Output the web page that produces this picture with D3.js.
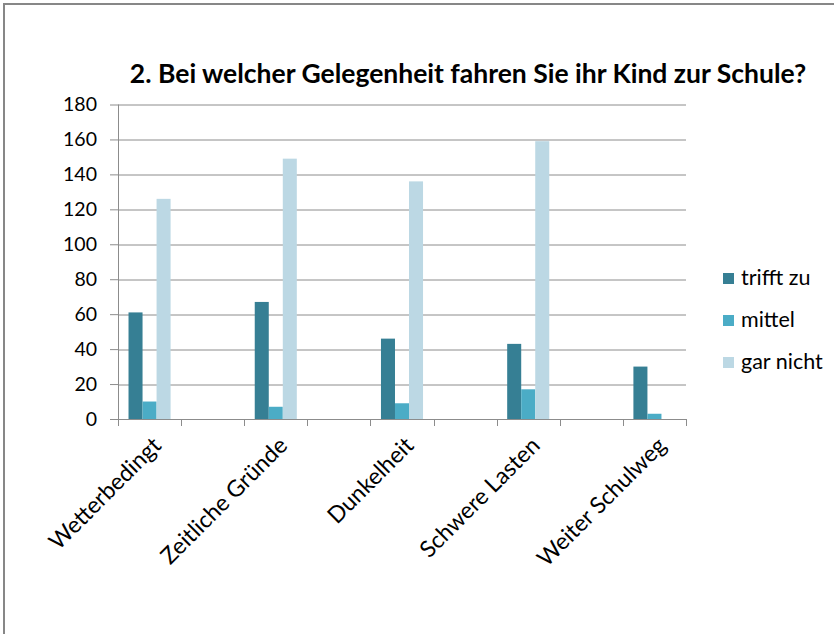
<!DOCTYPE html>
<html>
<head>
<meta charset="utf-8">
<script src="https://cdn.jsdelivr.net/npm/d3@7"></script>
<style>
  body { margin: 0; background: #fff; }
  svg { display: block; font-family: Lato, "Open Sans", sans-serif; }
</style>
</head>
<body>
<div id="wrapper"></div>
<script>
// blank rows in the source sheet are kept as "" / null
const categories = ["Wetterbedingt", "", "Zeitliche Gründe", "", "Dunkelheit", "", "Schwere Lasten", "", "Weiter Schulweg"]
const seriesNames = ["trifft zu", "mittel", "gar nicht"]
const triffZu  = [61, null, 67, null, 46, null, 43, null, 30]
const mittel   = [10, null, 7, null, 9, null, 17, null, 3]
const garNicht = [126, null, 149, null, 136, null, 159, null, 0]
const yTicks = [0, 20, 40, 60, 80, 100, 120, 140, 160, 180]
const colors = ["#367f94", "#4bacc6", "#bcd8e4"]
const titleText = "2. Bei welcher Gelegenheit fahren Sie ihr Kind zur Schule?"

function drawChart() {
    const values = [triffZu, mittel, garNicht]
    let dimensions = {
        width: 834,
        height: 634,
        margin: { top: 104.5, right: 148, bottom: 215, left: 118 },
    }
    dimensions.boundedWidth = dimensions.width - dimensions.margin.left - dimensions.margin.right
    dimensions.boundedHeight = dimensions.height - dimensions.margin.top - dimensions.margin.bottom

    const wrapper = d3.select("#wrapper")
        .append("svg")
            .attr("width", dimensions.width)
            .attr("height", dimensions.height)

    // chart area frame
    wrapper.append("rect")
        .attr("x", 4).attr("y", 4)
        .attr("width", 900).attr("height", 700)
        .attr("fill", "#fff")
        .attr("stroke", "#878787")
        .attr("stroke-width", 2)

    wrapper.append("text")
        .attr("x", 468).attr("y", 83)
        .attr("text-anchor", "middle")
        .attr("font-size", 26.5)
        .attr("font-weight", "bold")
        .attr("fill", "#000")
        .text(titleText)

    const bounds = wrapper.append("g")
        .attr("transform", `translate(${dimensions.margin.left},${dimensions.margin.top})`)

    const yScale = d3.scaleLinear()
        .domain([0, 180])
        .range([dimensions.boundedHeight, 0])

    const xScale = d3.scaleBand()
        .domain(d3.range(categories.length))
        .range([0, dimensions.boundedWidth])

    const innerScale = d3.scaleBand()
        .domain(seriesNames)
        .range([0, xScale.bandwidth()])
        .paddingOuter(0.75)

    // gridlines
    bounds.append("g")
        .selectAll("line")
        .data(yTicks.filter(d => d > 0))
        .join("line")
            .attr("x1", 0)
            .attr("x2", dimensions.boundedWidth)
            .attr("y1", d => Math.round(yScale(d)) + 0.5)
            .attr("y2", d => Math.round(yScale(d)) + 0.5)
            .attr("stroke", "#8c8c8c")

    // bars
    const groups = bounds.append("g")
        .selectAll("g")
        .data(seriesNames)
        .join("g")
            .attr("fill", (d, i) => colors[i])

    groups.selectAll("rect")
        .data((s, si) => values[si].map((v, ci) => ({ s, ci, v })).filter(d => d.v !== null))
        .join("rect")
            .attr("x", d => xScale(d.ci) + innerScale(d.s))
            .attr("width", innerScale.bandwidth())
            .attr("y", d => yScale(d.v))
            .attr("height", d => dimensions.boundedHeight - yScale(d.v))

    // y axis
    const yAxis = bounds.append("g")
        .call(d3.axisLeft(yScale).tickValues(yTicks).tickSize(8).tickPadding(13))
    yAxis.select(".domain").attr("stroke", "#8c8c8c").attr("d", `M0.5,${dimensions.boundedHeight}V0`)
    yAxis.selectAll(".tick line").attr("stroke", "#8c8c8c")
    yAxis.selectAll(".tick text")
        .attr("font-size", 19.5)
        .attr("font-family", "Lato, sans-serif")
        .attr("fill", "#000")

    // x axis: ticks sit on band edges
    const xAxisGroup = bounds.append("g")
        .attr("transform", `translate(0,${dimensions.boundedHeight})`)
    xAxisGroup.append("line")
        .attr("x1", 0).attr("x2", dimensions.boundedWidth)
        .attr("y1", 0.5).attr("y2", 0.5)
        .attr("stroke", "#8c8c8c")
    const edges = d3.range(categories.length + 1).map(i => i * xScale.step())
    xAxisGroup.selectAll(".edge")
        .data(edges)
        .join("line")
            .attr("class", "edge")
            .attr("x1", d => Math.round(d) + 0.5)
            .attr("x2", d => Math.round(d) + 0.5)
            .attr("y1", 0).attr("y2", 7)
            .attr("stroke", "#8c8c8c")
    xAxisGroup.selectAll(".lbl")
        .data(categories.map((c, i) => ({ c, i })).filter(d => d.c !== ""))
        .join("text")
            .attr("class", "lbl")
            .attr("transform", d => `translate(${xScale(d.i) + xScale.bandwidth() / 2 + 13},28) rotate(-45)`)
            .attr("text-anchor", "end")
            .attr("font-size", 23)
            .attr("fill", "#000")
            .text(d => d.c)

    // legend
    const legend = wrapper.append("g")
        .attr("transform", "translate(723,273)")
    const item = legend.selectAll("g")
        .data(seriesNames)
        .join("g")
            .attr("transform", (d, i) => `translate(0,${i * 42})`)
    item.append("rect")
        .attr("width", 11).attr("height", 11)
        .attr("fill", (d, i) => colors[i])
    item.append("text")
        .attr("x", 18).attr("y", 12)
        .attr("font-size", 21.5)
        .attr("fill", "#000")
        .text(d => d)
}
drawChart()
</script>
</body>
</html>
